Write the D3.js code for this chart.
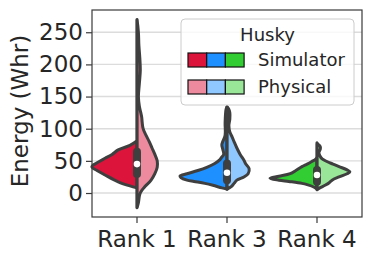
<!DOCTYPE html>
<html>
<head>
<meta charset="utf-8">
<script src="https://cdn.jsdelivr.net/npm/d3@7"></script>
<style>
  body { margin: 0; background: #fff; }
  text { font-family: "DejaVu Sans", sans-serif; fill: #262626; }
</style>
</head>
<body>
<div id="chart"></div>
<script>
// categories and hue groups
var categories = ['Rank 1', 'Rank 3', 'Rank 4'];
var groups = ['Simulator', 'Physical'];
var simColors = ['#dc143c', '#1e90ff', '#32cd32'];
var physColors = ['#ee8a9e', '#8fc8ff', '#99e699'];
var yTicks = [0, 50, 100, 150, 200, 250];

// density profiles: [energy, relative density]
var rank1Sim = [[8,0],[11,.15],[17.5,.40],[28,.68],[35,.85],[41,.96],[47,.85],[54,.68],[60,.53],[67,.40],[74,.15],[80,.02]];
var rank1Phys = [[-23,0],[-15,.03],[-5,.05],[0,.07],[5,.11],[10,.17],[20,.30],[30,.38],[40,.43],[50,.43],[60,.38],[70,.32],[80,.26],[90,.19],[100,.13],[110,.11],[118,.10],[125,.08],[135,.05],[150,.03],[170,.05],[190,.07],[210,.06],[230,.04],[250,.03],[270,0]];
var rank3Sim = [[6,0],[8,.11],[12,.30],[15,.47],[18,.70],[20,.85],[24,.98],[26.5,1.0],[30,.85],[35,.62],[40,.43],[46,.26],[52,.15],[56,.11],[60,.07],[68,.09],[75,.11],[80,.09],[90,.04],[110,.04],[130,.02],[134,0]];
var rank3Phys = [[6,0],[10,.09],[15,.15],[20,.21],[25,.36],[30,.45],[38,.47],[45,.40],[51,.36],[60,.28],[70,.21],[80,.15],[87,.11],[95,.06],[105,.04],[115,.06],[125,.06],[130,.04],[134,0]];
var rank4Sim = [[6,0],[9,.06],[13,.21],[15,.32],[18,.60],[20,.81],[23,1.0],[26,.81],[30,.57],[35,.45],[41,.32],[45,.21],[49,.11],[52,.04],[55,0]];
var rank4Phys = [[5,0],[8,.06],[12,.17],[16,.26],[20,.32],[25,.47],[30,.64],[33,.70],[36,.64],[41,.47],[45,.34],[49,.21],[53,.11],[58,.06],[63,.04],[68,.07],[72,.07],[76,.02],[78,0]];

// inner box stats: [whisker low, q1, median, q3, whisker high]
var boxStats = [[-23, 29.5, 45, 64, 270], [6, 20, 31.5, 46, 134], [6, 17.6, 28, 35.7, 77]];

var simDens = [rank1Sim, rank3Sim, rank4Sim];
var physDens = [rank1Phys, rank3Phys, rank4Phys];

var W = 373, H = 259;
var margin = {top: 10, right: 11, bottom: 42, left: 92},
    width = W - margin.left - margin.right,
    height = H - margin.top - margin.bottom;

var svg = d3.select('#chart').append('svg')
    .attr('width', W).attr('height', H)
  .append('g')
    .attr('transform', 'translate(' + margin.left + ',' + margin.top + ')');

var x = d3.scaleBand().domain(categories).range([0, width]);
var y = d3.scaleLinear().domain([-37.3, 284.6]).range([height, 0]);
var w = d3.scaleLinear().domain([0, 1]).range([0, 47]);

// grid
svg.selectAll('.grid').data(yTicks).enter().append('line')
    .attr('x1', 0).attr('x2', width)
    .attr('y1', function(d) { return y(d); }).attr('y2', function(d) { return y(d); })
    .attr('stroke', '#dcdcdc').attr('stroke-width', 1.4);

var outline = '#3f3f3f';

function half(cx, side) {
  return d3.area()
    .curve(d3.curveCatmullRom)
    .y(function(d) { return y(d[0]); })
    .x0(cx)
    .x1(function(d) { return cx + side * w(d[1]); });
}

categories.forEach(function(c, i) {
  var cx = x(c) + x.bandwidth() / 2;
  svg.append('path').datum(simDens[i])
    .attr('d', half(cx, -1))
    .attr('fill', simColors[i]).attr('stroke', outline)
    .attr('stroke-width', 3).attr('stroke-linejoin', 'round');
  svg.append('path').datum(physDens[i])
    .attr('d', half(cx, 1))
    .attr('fill', physColors[i]).attr('stroke', outline)
    .attr('stroke-width', 3).attr('stroke-linejoin', 'round');

  var b = boxStats[i];
  svg.append('line').attr('x1', cx).attr('x2', cx)
    .attr('y1', y(b[0])).attr('y2', y(b[4]))
    .attr('stroke', outline).attr('stroke-width', 2.5);
  svg.append('line').attr('x1', cx).attr('x2', cx)
    .attr('y1', y(b[1])).attr('y2', y(b[3]))
    .attr('stroke', outline).attr('stroke-width', 8).attr('stroke-linecap', 'round');
  svg.append('circle').attr('cx', cx).attr('cy', y(b[2])).attr('r', 3.3)
    .attr('fill', '#fff');
});

// frame
svg.append('rect').attr('width', width).attr('height', height)
  .attr('fill', 'none').attr('stroke', '#3a3a3a').attr('stroke-width', 1.2);

// axes
var yAxis = svg.append('g')
  .call(d3.axisLeft(y).tickValues(yTicks).tickSize(6).tickPadding(3));
var xAxis = svg.append('g')
  .attr('transform', 'translate(0,' + height + ')')
  .call(d3.axisBottom(x).tickSize(6).tickPadding(8));
[yAxis, xAxis].forEach(function(a) {
  a.select('.domain').remove();
  a.selectAll('line').attr('stroke', '#3a3a3a').attr('stroke-width', 1.2);
  a.selectAll('text').attr('font-size', 23).attr('font-family', '"DejaVu Sans", sans-serif').attr('fill', '#262626');
});

svg.append('text')
  .attr('transform', 'translate(' + (28 - margin.left) + ',' + (111 - margin.top) + ') rotate(-90)')
  .attr('text-anchor', 'middle')
  .attr('font-size', 23)
  .text('Energy (Whr)');

// legend
var lg = svg.append('g').attr('transform', 'translate(' + (181 - margin.left) + ',' + (19 - margin.top) + ')');
lg.append('rect').attr('width', 173).attr('height', 86).attr('rx', 4)
  .attr('fill', '#fff').attr('fill-opacity', 0.8)
  .attr('stroke', '#cccccc').attr('stroke-width', 1);
lg.append('text').attr('x', 86.5).attr('y', 22).attr('text-anchor', 'middle')
  .attr('font-size', 18).text('Husky');
var rowPal = [simColors, physColors];
groups.forEach(function(g, r) {
  var ry = 34 + r * 27;
  rowPal[r].forEach(function(col, k) {
    lg.append('rect').attr('x', 7 + k * 18.7).attr('y', ry)
      .attr('width', 18.7).attr('height', 14)
      .attr('fill', col).attr('stroke', '#111').attr('stroke-width', 1.2);
  });
  lg.append('text').attr('x', 77).attr('y', ry + 7).attr('dy', '0.35em')
    .attr('font-size', 18).text(g);
});
</script>
</body>
</html>
